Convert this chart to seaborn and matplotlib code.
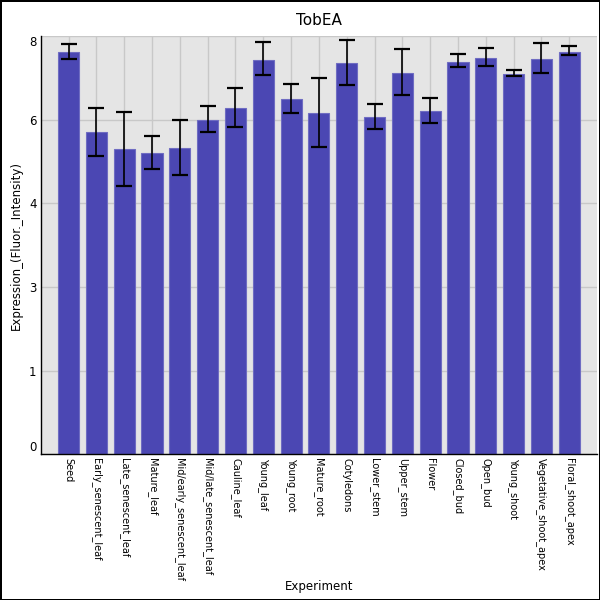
import matplotlib
matplotlib.use("Agg")
import matplotlib.pyplot as plt
import seaborn as sns
import pandas as pd

categories = ["Seed", "Early_senescent_leaf", "Late_senescent_leaf", "Mature_leaf",
              "Mid/early_senescent_leaf", "Mid/late_senescent_leaf", "Cauline_leaf",
              "Young_leaf", "Young_root", "Mature_root", "Cotyledons", "Lower_stem",
              "Upper_stem", "Flower", "Closed_bud", "Open_bud", "Young_shoot",
              "Vegetative_shoot_apex", "Floral_shoot_apex"]
expression = [7.70, 6.16, 5.83, 5.76, 5.85, 6.39, 6.62, 7.54, 6.79, 6.53,
              7.49, 6.45, 7.29, 6.56, 7.50, 7.58, 7.27, 7.56, 7.70]
err_low = [0.14, 0.45, 0.69, 0.31, 0.51, 0.23, 0.36, 0.29, 0.26, 0.66,
           0.43, 0.23, 0.42, 0.22, 0.10, 0.15, 0.04, 0.26, 0.06]
err_high = [0.14, 0.47, 0.71, 0.32, 0.55, 0.27, 0.39, 0.34, 0.30, 0.67,
            0.44, 0.24, 0.46, 0.25, 0.15, 0.19, 0.08, 0.30, 0.11]
ytick_values = [0, 1.6, 3.2, 4.8, 6.4, 8.0]
ytick_labels = ["0", "1", "3", "4", "6", "8"]

df = pd.DataFrame({"Experiment": categories, "Expression": expression})

sns.set_style("white")
plt.rcParams['font.family'] = ['DejaVu Sans']
plt.rcParams['text.color'] = 'black'
plt.rcParams['axes.labelcolor'] = 'black'
plt.rcParams['xtick.color'] = 'black'
plt.rcParams['ytick.color'] = 'black'

fig = plt.figure(figsize=(6, 6), dpi=100)
fig.patch.set_facecolor("white")
fig.patch.set_edgecolor("black")
fig.patch.set_linewidth(2)
ax = fig.add_axes([0.068, 0.243, 0.927, 0.697])
ax.set_facecolor("#e5e5e5")

sns.barplot(data=df, x="Experiment", y="Expression", color="#4b47b3",
            saturation=1, width=0.76, edgecolor="#6f6cc2", linewidth=0.8,
            ax=ax, zorder=2)
ax.errorbar(x=list(range(len(categories))), y=expression,
            yerr=[err_low, err_high], fmt="none", ecolor="black",
            elinewidth=1.2, capsize=6, capthick=1.6, zorder=3)

ax.set_xlim(-1, len(categories))
ax.set_ylim(0, 8)
ax.set_yticks(ytick_values)
ax.set_yticklabels(ytick_labels, fontsize=8.5, color="black")
yl = ax.get_yticklabels()
yl[0].set_verticalalignment("bottom")
yl[-1].set_verticalalignment("top")
ax.set_xticks(list(range(len(categories))))
ax.set_xticklabels(categories, rotation=270, fontsize=7, va="top", ha="center",
                   color="black")
ax.tick_params(axis="both", length=0, pad=3)

ax.grid(True, color="#c8c8c8", linewidth=1, zorder=0)
ax.set_axisbelow(True)
for s in ["top", "right"]:
    ax.spines[s].set_visible(False)
for s in ["left", "bottom"]:
    ax.spines[s].set_color("black")
    ax.spines[s].set_linewidth(1)

ax.set_title("TobEA", fontsize=11, pad=8, color="black")
ax.set_xlabel("Experiment", fontsize=8.5, color="black")
ax.xaxis.set_label_coords(0.5, -0.30)
ax.set_ylabel("Expression_(Fluor._Intensity)", fontsize=8.5, color="black")
ax.yaxis.set_label_coords(-0.032, 0.5)

fig.savefig("out.png", dpi=100, facecolor=fig.get_facecolor(), edgecolor=fig.get_edgecolor())
